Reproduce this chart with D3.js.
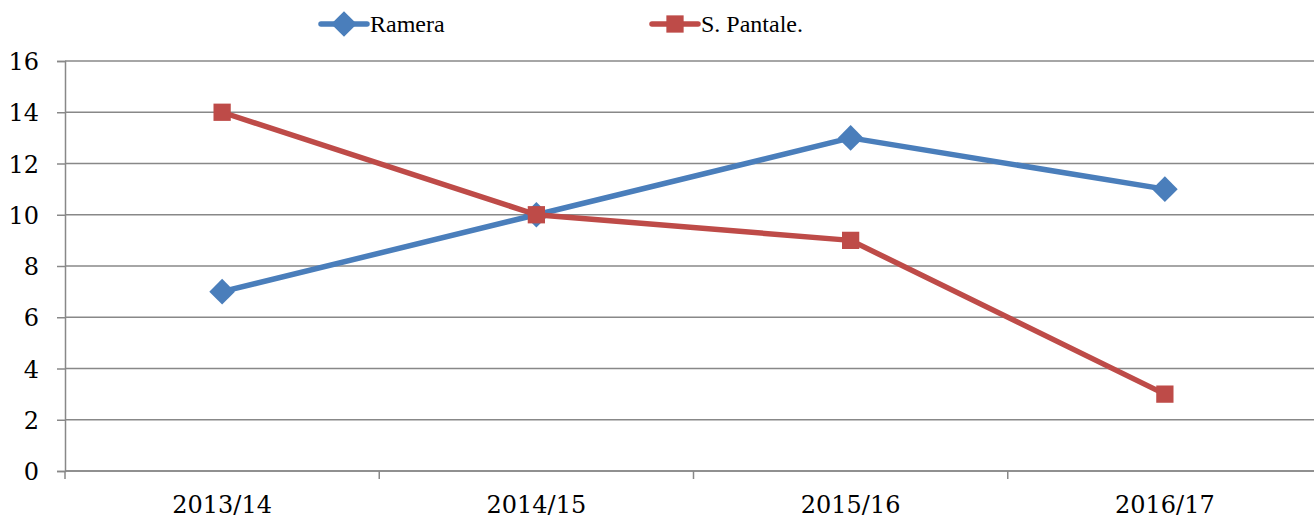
<!DOCTYPE html>
<html>
<head>
<meta charset="utf-8">
<script src="https://cdn.jsdelivr.net/npm/d3@7"></script>
<style>
  body { margin: 0; background: #fff; }
  svg { display: block; }
</style>
</head>
<body>
<div id="chart"></div>
<script>
const seasons = ["2013/14", "2014/15", "2015/16", "2016/17"];
const rameraValues = [7, 10, 13, 11];
const pantaleValues = [14, 10, 9, 3];
const yTicks = [0, 2, 4, 6, 8, 10, 12, 14, 16];

const series = [
  { name: "Ramera", values: rameraValues, color: "#4A7EBB", marker: "diamond" },
  { name: "S. Pantale.", values: pantaleValues, color: "#BE4B48", marker: "square" }
];

const W = 1314, H = 518;
const margin = { top: 61, right: -8, bottom: 47, left: 65 };
const tickFont = "DejaVu Serif, serif";

const svg = d3.select("#chart").append("svg")
  .attr("width", W)
  .attr("height", H);

const x = d3.scaleBand()
  .domain(seasons)
  .range([margin.left, W - margin.right])
  .padding(0);

const y = d3.scaleLinear()
  .domain([0, 16])
  .range([H - margin.bottom, margin.top]);

const gridColor = "#888888";

// horizontal grid
svg.append("g")
  .selectAll("line")
  .data(yTicks)
  .join("line")
  .attr("x1", margin.left)
  .attr("x2", W)
  .attr("y1", d => y(d))
  .attr("y2", d => y(d))
  .attr("stroke", gridColor)
  .attr("stroke-width", 1.5);

// y axis
const yAxis = svg.append("g")
  .attr("transform", `translate(${margin.left},0)`)
  .call(d3.axisLeft(y).tickValues(yTicks).tickSize(8).tickPadding(18));
yAxis.attr("font-family", tickFont).attr("font-size", 24);
yAxis.select(".domain").attr("stroke", gridColor).attr("stroke-width", 1.5);
yAxis.selectAll(".tick line").attr("stroke", gridColor).attr("stroke-width", 1.5);
yAxis.selectAll(".tick text")
  .attr("fill", "#000")
  .attr("dy", "0.36em");

// x axis: ticks on category boundaries
const xAxis = svg.append("g")
  .attr("transform", `translate(0,${y(0)})`);
xAxis.append("line")
  .attr("x1", margin.left)
  .attr("x2", W)
  .attr("stroke", gridColor)
  .attr("stroke-width", 1.5);
xAxis.selectAll(".bnd")
  .data(seasons)
  .join("line")
  .attr("class", "bnd")
  .attr("x1", d => x(d))
  .attr("x2", d => x(d))
  .attr("y1", 0)
  .attr("y2", 8)
  .attr("stroke", gridColor)
  .attr("stroke-width", 1.5);
xAxis.selectAll(".lbl")
  .data(seasons)
  .join("text")
  .attr("class", "lbl")
  .attr("x", d => x(d) + x.bandwidth() / 2)
  .attr("y", 42)
  .attr("text-anchor", "middle")
  .attr("font-family", tickFont)
  .attr("font-size", 24)
  .attr("fill", "#000")
  .text(d => d);

const symbolFor = m => m === "diamond"
  ? d3.symbol().type(d3.symbolDiamond2).size(420)
  : d3.symbol().type(d3.symbolSquare2).size(380);

const line = d3.line()
  .x((d, i) => x(seasons[i]) + x.bandwidth() / 2)
  .y(d => y(d));

series.forEach(s => {
  svg.append("path")
    .datum(s.values)
    .attr("d", line)
    .attr("fill", "none")
    .attr("stroke", s.color)
    .attr("stroke-width", 5.5)
    .attr("stroke-linejoin", "round");

  svg.append("g")
    .selectAll("path")
    .data(s.values)
    .join("path")
    .attr("transform", (d, i) => `translate(${x(seasons[i]) + x.bandwidth() / 2},${y(d)})`)
    .attr("d", symbolFor(s.marker))
    .attr("fill", s.color);
});

// legend
const legendX = [321, 652];
const legend = svg.append("g");
series.forEach((s, i) => {
  const g = legend.append("g").attr("transform", `translate(${legendX[i]},24)`);
  g.append("line")
    .attr("x1", 0).attr("x2", 46)
    .attr("stroke", s.color)
    .attr("stroke-width", 5.5)
    .attr("stroke-linecap", "round");
  g.append("path")
    .attr("transform", "translate(23,0)")
    .attr("d", symbolFor(s.marker))
    .attr("fill", s.color);
  g.append("text")
    .attr("x", 49)
    .attr("y", 8)
    .attr("font-family", "Liberation Serif, serif")
    .attr("font-size", 24)
    .attr("fill", "#000")
    .text(s.name);
});
</script>
</body>
</html>
